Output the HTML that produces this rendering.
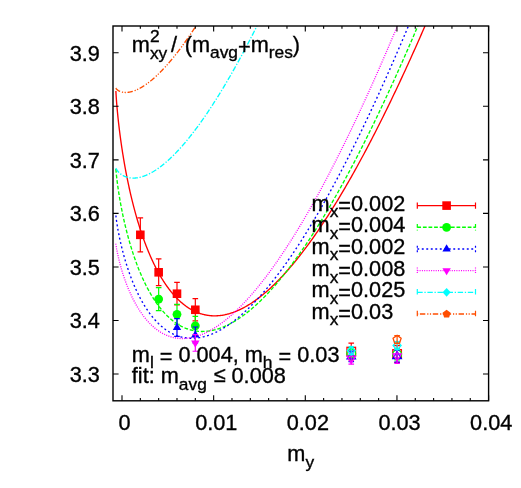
<!DOCTYPE html><html><head><meta charset="utf-8"><style>html,body{margin:0;padding:0;background:#fff}svg{display:block}text{font-family:"Liberation Sans",sans-serif;fill:#000}</style></head><body>
<svg width="521" height="488" viewBox="0 0 521 488">
<rect width="521" height="488" fill="#fff"/>
<clipPath id="cp"><rect x="113.00" y="26.00" width="375.60" height="374.80"/></clipPath>
<g clip-path="url(#cp)" fill="none" stroke-width="1.35">
<path d="M115.91 91.04 L115.91 91.05 L115.91 91.09 L115.91 91.15 L115.91 91.23 L115.92 91.34 L115.92 91.46 L115.93 91.61 L115.93 91.78 L115.94 91.97 L115.95 92.18 L115.96 92.41 L115.97 92.65 L115.99 92.92 L116.00 93.20 L116.02 93.50 L116.03 93.82 L116.05 94.15 L116.07 94.50 L116.09 94.86 L116.12 95.24 L116.14 95.64 L116.16 96.05 L116.19 96.47 L116.22 96.91 L116.25 97.36 L116.28 97.82 L116.31 98.30 L116.35 98.79 L116.38 99.30 L116.42 99.82 L116.46 100.35 L116.50 100.89 L116.54 101.44 L116.58 102.00 L116.63 102.58 L116.67 103.17 L116.72 103.76 L116.77 104.37 L116.82 104.99 L116.87 105.62 L116.93 106.26 L116.98 106.91 L117.04 107.57 L117.10 108.24 L117.16 108.91 L117.22 109.60 L117.28 110.30 L117.35 111.00 L117.42 111.71 L117.49 112.43 L117.56 113.16 L117.63 113.90 L117.70 114.65 L117.78 115.40 L117.85 116.16 L117.93 116.93 L118.01 117.71 L118.10 118.49 L118.18 119.28 L118.27 120.08 L118.35 120.88 L118.44 121.69 L118.53 122.51 L118.63 123.33 L118.72 124.16 L118.82 125.00 L118.91 125.84 L119.01 126.69 L119.12 127.54 L119.22 128.40 L119.32 129.26 L119.43 130.13 L119.54 131.01 L119.65 131.89 L119.76 132.77 L119.88 133.66 L119.99 134.56 L120.11 135.46 L120.23 136.36 L120.35 137.27 L120.47 138.18 L120.60 139.10 L120.72 140.02 L120.85 140.94 L120.98 141.87 L121.12 142.81 L121.25 143.74 L121.39 144.68 L121.52 145.63 L121.66 146.57 L121.81 147.52 L121.95 148.48 L122.10 149.43 L122.24 150.39 L122.39 151.35 L122.54 152.32 L122.70 153.29 L122.85 154.26 L123.01 155.23 L123.17 156.21 L123.33 157.19 L123.49 158.17 L123.65 159.15 L123.82 160.13 L123.99 161.12 L124.16 162.11 L124.33 163.10 L124.51 164.09 L124.68 165.09 L124.86 166.08 L125.04 167.08 L125.22 168.08 L125.41 169.08 L125.59 170.08 L125.78 171.08 L125.97 172.09 L126.16 173.09 L126.36 174.10 L126.55 175.11 L126.75 176.11 L126.95 177.12 L127.15 178.13 L127.36 179.14 L127.56 180.15 L127.77 181.16 L127.98 182.18 L128.19 183.19 L128.40 184.20 L128.62 185.21 L128.84 186.22 L129.06 187.24 L129.28 188.25 L129.50 189.26 L129.73 190.27 L129.96 191.28 L130.19 192.30 L130.42 193.31 L130.65 194.32 L130.89 195.33 L131.13 196.34 L131.37 197.35 L131.61 198.36 L131.86 199.36 L132.10 200.37 L132.35 201.38 L132.60 202.38 L132.85 203.39 L133.11 204.39 L133.36 205.39 L133.62 206.39 L133.88 207.39 L134.15 208.39 L134.41 209.39 L134.68 210.38 L134.95 211.37 L135.22 212.37 L135.49 213.36 L135.77 214.35 L136.05 215.33 L136.33 216.32 L136.61 217.30 L136.89 218.28 L137.18 219.26 L137.47 220.24 L137.76 221.22 L138.05 222.19 L138.34 223.16 L138.64 224.13 L138.94 225.10 L139.24 226.06 L139.54 227.02 L139.85 227.98 L140.16 228.94 L140.46 229.89 L140.78 230.84 L141.09 231.79 L141.41 232.74 L141.72 233.68 L142.04 234.62 L142.37 235.56 L142.69 236.49 L143.02 237.42 L143.35 238.35 L143.68 239.28 L144.01 240.20 L144.35 241.12 L144.68 242.03 L145.02 242.94 L145.37 243.85 L145.71 244.76 L146.06 245.66 L146.40 246.56 L146.75 247.45 L147.11 248.34 L147.46 249.23 L147.82 250.11 L148.18 250.99 L148.54 251.87 L148.90 252.74 L149.27 253.61 L149.64 254.47 L150.01 255.33 L150.38 256.19 L150.76 257.04 L151.13 257.88 L151.51 258.73 L151.89 259.57 L152.28 260.40 L152.66 261.23 L153.05 262.05 L153.44 262.88 L153.83 263.69 L154.23 264.50 L154.62 265.31 L155.02 266.11 L155.42 266.91 L155.83 267.70 L156.23 268.49 L156.64 269.27 L157.05 270.05 L157.47 270.83 L157.88 271.59 L158.30 272.36 L158.72 273.12 L159.14 273.87 L159.56 274.62 L159.99 275.36 L160.42 276.10 L160.85 276.83 L161.28 277.55 L161.72 278.28 L162.15 278.99 L162.59 279.70 L163.03 280.41 L163.48 281.10 L163.93 281.80 L164.37 282.48 L164.82 283.17 L165.28 283.84 L165.73 284.51 L166.19 285.18 L166.65 285.84 L167.11 286.49 L167.58 287.13 L168.05 287.77 L168.52 288.41 L168.99 289.04 L169.46 289.66 L169.94 290.28 L170.42 290.88 L170.90 291.49 L171.38 292.08 L171.87 292.68 L172.35 293.26 L172.84 293.84 L173.34 294.41 L173.83 294.97 L174.33 295.53 L174.83 296.08 L175.33 296.63 L175.83 297.17 L176.34 297.70 L176.85 298.22 L177.36 298.74 L177.87 299.25 L178.39 299.75 L178.91 300.25 L179.43 300.74 L179.95 301.22 L180.47 301.70 L181.00 302.17 L181.53 302.63 L182.06 303.08 L182.60 303.53 L183.13 303.97 L183.67 304.40 L184.21 304.83 L184.76 305.24 L185.30 305.65 L185.85 306.06 L186.40 306.45 L186.95 306.84 L187.51 307.22 L188.07 307.59 L188.63 307.96 L189.19 308.31 L189.76 308.66 L190.32 309.00 L190.89 309.34 L191.46 309.66 L192.04 309.98 L192.62 310.29 L193.20 310.59 L193.78 310.89 L194.36 311.17 L194.95 311.45 L195.54 311.72 L196.13 311.98 L196.72 312.24 L197.32 312.48 L197.91 312.72 L198.51 312.95 L199.12 313.17 L199.72 313.38 L200.33 313.58 L200.94 313.77 L201.55 313.96 L202.17 314.14 L202.79 314.31 L203.41 314.47 L204.03 314.62 L204.65 314.76 L205.28 314.90 L205.91 315.02 L206.54 315.14 L207.17 315.25 L207.81 315.35 L208.45 315.44 L209.09 315.52 L209.74 315.59 L210.38 315.65 L211.03 315.71 L211.68 315.75 L212.34 315.79 L212.99 315.81 L213.65 315.83 L214.31 315.84 L214.97 315.84 L215.64 315.83 L216.31 315.81 L216.98 315.78 L217.65 315.74 L218.33 315.69 L219.00 315.64 L219.69 315.57 L220.37 315.49 L221.05 315.41 L221.74 315.31 L222.43 315.21 L223.12 315.09 L223.82 314.97 L224.52 314.83 L225.22 314.69 L225.92 314.53 L226.62 314.37 L227.33 314.20 L228.04 314.01 L228.75 313.82 L229.47 313.62 L230.18 313.40 L230.90 313.18 L231.63 312.94 L232.35 312.70 L233.08 312.45 L233.81 312.18 L234.54 311.91 L235.27 311.62 L236.01 311.33 L236.75 311.02 L237.49 310.70 L238.23 310.38 L238.98 310.04 L239.73 309.69 L240.48 309.34 L241.24 308.97 L241.99 308.59 L242.75 308.20 L243.51 307.80 L244.28 307.39 L245.04 306.97 L245.81 306.53 L246.59 306.09 L247.36 305.64 L248.14 305.17 L248.91 304.70 L249.70 304.21 L250.48 303.71 L251.27 303.21 L252.06 302.69 L252.85 302.16 L253.64 301.61 L254.44 301.06 L255.24 300.50 L256.04 299.92 L256.84 299.34 L257.65 298.74 L258.46 298.13 L259.27 297.51 L260.08 296.88 L260.90 296.24 L261.72 295.58 L262.54 294.92 L263.37 294.24 L264.19 293.55 L265.02 292.85 L265.85 292.14 L266.69 291.42 L267.53 290.69 L268.36 289.94 L269.21 289.18 L270.05 288.41 L270.90 287.63 L271.75 286.84 L272.60 286.03 L273.45 285.22 L274.31 284.39 L275.17 283.55 L276.03 282.70 L276.90 281.83 L277.76 280.96 L278.63 280.07 L279.51 279.17 L280.38 278.26 L281.26 277.33 L282.14 276.39 L283.02 275.45 L283.91 274.49 L284.79 273.51 L285.68 272.53 L286.58 271.53 L287.47 270.52 L288.37 269.50 L289.27 268.46 L290.17 267.42 L291.08 266.36 L291.99 265.28 L292.90 264.20 L293.81 263.10 L294.73 261.99 L295.65 260.87 L296.57 259.74 L297.49 258.59 L298.42 257.43 L299.34 256.26 L300.28 255.07 L301.21 253.87 L302.15 252.66 L303.08 251.44 L304.03 250.20 L304.97 248.95 L305.92 247.69 L306.87 246.42 L307.82 245.13 L308.77 243.83 L309.73 242.51 L310.69 241.18 L311.65 239.84 L312.62 238.49 L313.58 237.12 L314.55 235.74 L315.52 234.35 L316.50 232.94 L317.48 231.52 L318.46 230.09 L319.44 228.65 L320.43 227.19 L321.41 225.71 L322.40 224.23 L323.40 222.73 L324.39 221.21 L325.39 219.69 L326.39 218.15 L327.40 216.59 L328.40 215.03 L329.41 213.44 L330.42 211.85 L331.44 210.24 L332.45 208.62 L333.47 206.98 L334.49 205.33 L335.52 203.67 L336.55 201.99 L337.58 200.30 L338.61 198.60 L339.64 196.88 L340.68 195.15 L341.72 193.40 L342.76 191.64 L343.81 189.87 L344.86 188.08 L345.91 186.28 L346.96 184.46 L348.02 182.63 L349.08 180.78 L350.14 178.92 L351.20 177.05 L352.27 175.16 L353.34 173.26 L354.41 171.35 L355.48 169.42 L356.56 167.47 L357.64 165.51 L358.72 163.54 L359.81 161.55 L360.89 159.55 L361.98 157.53 L363.08 155.50 L364.17 153.46 L365.27 151.40 L366.37 149.32 L367.47 147.23 L368.58 145.13 L369.69 143.01 L370.80 140.88 L371.91 138.73 L373.03 136.56 L374.15 134.39 L375.27 132.19 L376.40 129.99 L377.52 127.77 L378.65 125.53 L379.79 123.28 L380.92 121.01 L382.06 118.73 L383.20 116.43 L384.34 114.12 L385.49 111.79 L386.64 109.45 L387.79 107.09 L388.94 104.72 L390.10 102.34 L391.26 99.93 L392.42 97.52 L393.58 95.08 L394.75 92.63 L395.92 90.17 L397.09 87.69 L398.27 85.20 L399.45 82.69 L400.63 80.16 L401.81 77.62 L403.00 75.07 L404.18 72.50 L405.38 69.91 L406.57 67.31 L407.77 64.69 L408.97 62.06 L410.17 59.41 L411.37 56.75 L412.58 54.07 L413.79 51.37 L415.00 48.66 L416.22 45.93 L417.44 43.19 L418.66 40.43 L419.88 37.66 L421.11 34.87 L422.34 32.06 L423.57 29.24 L424.80 26.40 L424.98 26.00" stroke="#ff0000"/>
<path d="M115.91 169.06 L115.91 169.06 L115.91 169.09 L115.91 169.12 L115.91 169.18 L115.92 169.24 L115.92 169.33 L115.93 169.42 L115.93 169.53 L115.94 169.65 L115.95 169.79 L115.96 169.94 L115.97 170.10 L115.99 170.28 L116.00 170.46 L116.02 170.66 L116.03 170.87 L116.05 171.10 L116.07 171.33 L116.09 171.58 L116.12 171.83 L116.14 172.10 L116.16 172.38 L116.19 172.67 L116.22 172.97 L116.25 173.28 L116.28 173.60 L116.31 173.93 L116.35 174.27 L116.38 174.61 L116.42 174.97 L116.46 175.34 L116.50 175.72 L116.54 176.10 L116.58 176.50 L116.63 176.90 L116.67 177.31 L116.72 177.74 L116.77 178.16 L116.82 178.60 L116.87 179.05 L116.93 179.50 L116.98 179.96 L117.04 180.43 L117.10 180.91 L117.16 181.39 L117.22 181.88 L117.28 182.38 L117.35 182.89 L117.42 183.40 L117.49 183.92 L117.56 184.45 L117.63 184.98 L117.70 185.52 L117.78 186.07 L117.85 186.62 L117.93 187.18 L118.01 187.74 L118.10 188.32 L118.18 188.89 L118.27 189.48 L118.35 190.06 L118.44 190.66 L118.53 191.26 L118.63 191.86 L118.72 192.48 L118.82 193.09 L118.91 193.71 L119.01 194.34 L119.12 194.97 L119.22 195.61 L119.32 196.25 L119.43 196.89 L119.54 197.54 L119.65 198.20 L119.76 198.86 L119.88 199.52 L119.99 200.19 L120.11 200.86 L120.23 201.54 L120.35 202.22 L120.47 202.90 L120.60 203.59 L120.72 204.28 L120.85 204.98 L120.98 205.67 L121.12 206.38 L121.25 207.08 L121.39 207.79 L121.52 208.50 L121.66 209.22 L121.81 209.94 L121.95 210.66 L122.10 211.38 L122.24 212.11 L122.39 212.84 L122.54 213.57 L122.70 214.31 L122.85 215.05 L123.01 215.79 L123.17 216.53 L123.33 217.28 L123.49 218.02 L123.65 218.77 L123.82 219.52 L123.99 220.28 L124.16 221.03 L124.33 221.79 L124.51 222.55 L124.68 223.31 L124.86 224.07 L125.04 224.84 L125.22 225.60 L125.41 226.37 L125.59 227.14 L125.78 227.91 L125.97 228.68 L126.16 229.45 L126.36 230.23 L126.55 231.00 L126.75 231.78 L126.95 232.55 L127.15 233.33 L127.36 234.11 L127.56 234.89 L127.77 235.67 L127.98 236.44 L128.19 237.23 L128.40 238.01 L128.62 238.79 L128.84 239.57 L129.06 240.35 L129.28 241.13 L129.50 241.91 L129.73 242.70 L129.96 243.48 L130.19 244.26 L130.42 245.04 L130.65 245.82 L130.89 246.61 L131.13 247.39 L131.37 248.17 L131.61 248.95 L131.86 249.73 L132.10 250.51 L132.35 251.29 L132.60 252.06 L132.85 252.84 L133.11 253.62 L133.36 254.39 L133.62 255.17 L133.88 255.94 L134.15 256.71 L134.41 257.48 L134.68 258.26 L134.95 259.02 L135.22 259.79 L135.49 260.56 L135.77 261.32 L136.05 262.09 L136.33 262.85 L136.61 263.61 L136.89 264.37 L137.18 265.13 L137.47 265.88 L137.76 266.64 L138.05 267.39 L138.34 268.14 L138.64 268.89 L138.94 269.63 L139.24 270.38 L139.54 271.12 L139.85 271.86 L140.16 272.60 L140.46 273.33 L140.78 274.07 L141.09 274.80 L141.41 275.53 L141.72 276.25 L142.04 276.98 L142.37 277.70 L142.69 278.41 L143.02 279.13 L143.35 279.84 L143.68 280.55 L144.01 281.26 L144.35 281.96 L144.68 282.66 L145.02 283.36 L145.37 284.06 L145.71 284.75 L146.06 285.44 L146.40 286.12 L146.75 286.81 L147.11 287.49 L147.46 288.16 L147.82 288.83 L148.18 289.50 L148.54 290.17 L148.90 290.83 L149.27 291.49 L149.64 292.14 L150.01 292.79 L150.38 293.44 L150.76 294.08 L151.13 294.72 L151.51 295.36 L151.89 295.99 L152.28 296.62 L152.66 297.24 L153.05 297.86 L153.44 298.48 L153.83 299.09 L154.23 299.69 L154.62 300.30 L155.02 300.90 L155.42 301.49 L155.83 302.08 L156.23 302.66 L156.64 303.24 L157.05 303.82 L157.47 304.39 L157.88 304.96 L158.30 305.52 L158.72 306.08 L159.14 306.63 L159.56 307.18 L159.99 307.72 L160.42 308.26 L160.85 308.79 L161.28 309.32 L161.72 309.84 L162.15 310.36 L162.59 310.87 L163.03 311.38 L163.48 311.88 L163.93 312.38 L164.37 312.87 L164.82 313.35 L165.28 313.83 L165.73 314.31 L166.19 314.78 L166.65 315.24 L167.11 315.70 L167.58 316.15 L168.05 316.60 L168.52 317.04 L168.99 317.48 L169.46 317.91 L169.94 318.33 L170.42 318.75 L170.90 319.16 L171.38 319.57 L171.87 319.97 L172.35 320.36 L172.84 320.75 L173.34 321.13 L173.83 321.51 L174.33 321.88 L174.83 322.24 L175.33 322.59 L175.83 322.94 L176.34 323.29 L176.85 323.63 L177.36 323.96 L177.87 324.28 L178.39 324.60 L178.91 324.91 L179.43 325.21 L179.95 325.51 L180.47 325.80 L181.00 326.09 L181.53 326.36 L182.06 326.63 L182.60 326.90 L183.13 327.15 L183.67 327.40 L184.21 327.65 L184.76 327.88 L185.30 328.11 L185.85 328.33 L186.40 328.55 L186.95 328.75 L187.51 328.95 L188.07 329.14 L188.63 329.33 L189.19 329.51 L189.76 329.68 L190.32 329.84 L190.89 329.99 L191.46 330.14 L192.04 330.28 L192.62 330.41 L193.20 330.54 L193.78 330.66 L194.36 330.77 L194.95 330.87 L195.54 330.96 L196.13 331.05 L196.72 331.12 L197.32 331.19 L197.91 331.26 L198.51 331.31 L199.12 331.36 L199.72 331.39 L200.33 331.42 L200.94 331.45 L201.55 331.46 L202.17 331.46 L202.79 331.46 L203.41 331.45 L204.03 331.43 L204.65 331.40 L205.28 331.36 L205.91 331.32 L206.54 331.27 L207.17 331.20 L207.81 331.13 L208.45 331.05 L209.09 330.97 L209.74 330.87 L210.38 330.76 L211.03 330.65 L211.68 330.53 L212.34 330.40 L212.99 330.25 L213.65 330.11 L214.31 329.95 L214.97 329.78 L215.64 329.60 L216.31 329.42 L216.98 329.22 L217.65 329.02 L218.33 328.81 L219.00 328.58 L219.69 328.35 L220.37 328.11 L221.05 327.86 L221.74 327.60 L222.43 327.33 L223.12 327.06 L223.82 326.77 L224.52 326.47 L225.22 326.17 L225.92 325.85 L226.62 325.52 L227.33 325.19 L228.04 324.85 L228.75 324.49 L229.47 324.13 L230.18 323.75 L230.90 323.37 L231.63 322.98 L232.35 322.57 L233.08 322.16 L233.81 321.74 L234.54 321.30 L235.27 320.86 L236.01 320.41 L236.75 319.94 L237.49 319.47 L238.23 318.99 L238.98 318.49 L239.73 317.99 L240.48 317.47 L241.24 316.95 L241.99 316.41 L242.75 315.87 L243.51 315.31 L244.28 314.75 L245.04 314.17 L245.81 313.58 L246.59 312.99 L247.36 312.38 L248.14 311.76 L248.91 311.13 L249.70 310.49 L250.48 309.84 L251.27 309.18 L252.06 308.51 L252.85 307.83 L253.64 307.13 L254.44 306.43 L255.24 305.71 L256.04 304.99 L256.84 304.25 L257.65 303.50 L258.46 302.74 L259.27 301.97 L260.08 301.19 L260.90 300.40 L261.72 299.60 L262.54 298.78 L263.37 297.96 L264.19 297.12 L265.02 296.27 L265.85 295.41 L266.69 294.54 L267.53 293.66 L268.36 292.77 L269.21 291.86 L270.05 290.95 L270.90 290.02 L271.75 289.08 L272.60 288.13 L273.45 287.17 L274.31 286.19 L275.17 285.21 L276.03 284.21 L276.90 283.20 L277.76 282.18 L278.63 281.15 L279.51 280.10 L280.38 279.04 L281.26 277.98 L282.14 276.90 L283.02 275.80 L283.91 274.70 L284.79 273.58 L285.68 272.46 L286.58 271.32 L287.47 270.16 L288.37 269.00 L289.27 267.82 L290.17 266.64 L291.08 265.44 L291.99 264.22 L292.90 263.00 L293.81 261.76 L294.73 260.51 L295.65 259.25 L296.57 257.97 L297.49 256.69 L298.42 255.39 L299.34 254.07 L300.28 252.75 L301.21 251.41 L302.15 250.06 L303.08 248.70 L304.03 247.33 L304.97 245.94 L305.92 244.54 L306.87 243.13 L307.82 241.70 L308.77 240.26 L309.73 238.81 L310.69 237.35 L311.65 235.87 L312.62 234.38 L313.58 232.88 L314.55 231.36 L315.52 229.83 L316.50 228.29 L317.48 226.74 L318.46 225.17 L319.44 223.59 L320.43 221.99 L321.41 220.39 L322.40 218.77 L323.40 217.13 L324.39 215.48 L325.39 213.82 L326.39 212.15 L327.40 210.46 L328.40 208.76 L329.41 207.05 L330.42 205.32 L331.44 203.58 L332.45 201.83 L333.47 200.06 L334.49 198.28 L335.52 196.48 L336.55 194.68 L337.58 192.85 L338.61 191.02 L339.64 189.17 L340.68 187.31 L341.72 185.43 L342.76 183.54 L343.81 181.63 L344.86 179.72 L345.91 177.78 L346.96 175.84 L348.02 173.88 L349.08 171.91 L350.14 169.92 L351.20 167.92 L352.27 165.90 L353.34 163.87 L354.41 161.83 L355.48 159.77 L356.56 157.70 L357.64 155.61 L358.72 153.51 L359.81 151.39 L360.89 149.27 L361.98 147.12 L363.08 144.96 L364.17 142.79 L365.27 140.61 L366.37 138.41 L367.47 136.19 L368.58 133.96 L369.69 131.72 L370.80 129.46 L371.91 127.19 L373.03 124.90 L374.15 122.60 L375.27 120.28 L376.40 117.95 L377.52 115.60 L378.65 113.24 L379.79 110.86 L380.92 108.47 L382.06 106.07 L383.20 103.65 L384.34 101.21 L385.49 98.76 L386.64 96.30 L387.79 93.82 L388.94 91.33 L390.10 88.82 L391.26 86.29 L392.42 83.75 L393.58 81.20 L394.75 78.63 L395.92 76.05 L397.09 73.45 L398.27 70.83 L399.45 68.20 L400.63 65.56 L401.81 62.90 L403.00 60.22 L404.18 57.53 L405.38 54.82 L406.57 52.10 L407.77 49.36 L408.97 46.61 L410.17 43.84 L411.37 41.06 L412.58 38.26 L413.79 35.45 L415.00 32.62 L416.22 29.77 L417.44 26.91 L417.82 26.00" stroke="#00ff00" stroke-dasharray="3.75 1.85"/>
<path d="M115.91 215.47 L115.91 215.47 L115.91 215.49 L115.91 215.52 L115.91 215.56 L115.92 215.61 L115.92 215.67 L115.93 215.74 L115.93 215.82 L115.94 215.91 L115.95 216.02 L115.96 216.13 L115.97 216.25 L115.99 216.38 L116.00 216.52 L116.02 216.68 L116.03 216.84 L116.05 217.01 L116.07 217.18 L116.09 217.37 L116.12 217.57 L116.14 217.77 L116.16 217.99 L116.19 218.21 L116.22 218.44 L116.25 218.68 L116.28 218.92 L116.31 219.18 L116.35 219.44 L116.38 219.71 L116.42 219.99 L116.46 220.27 L116.50 220.56 L116.54 220.86 L116.58 221.17 L116.63 221.48 L116.67 221.81 L116.72 222.13 L116.77 222.47 L116.82 222.81 L116.87 223.16 L116.93 223.51 L116.98 223.87 L117.04 224.24 L117.10 224.62 L117.16 225.00 L117.22 225.38 L117.28 225.77 L117.35 226.17 L117.42 226.58 L117.49 226.98 L117.56 227.40 L117.63 227.82 L117.70 228.25 L117.78 228.68 L117.85 229.12 L117.93 229.56 L118.01 230.01 L118.10 230.46 L118.18 230.92 L118.27 231.38 L118.35 231.85 L118.44 232.32 L118.53 232.79 L118.63 233.27 L118.72 233.76 L118.82 234.25 L118.91 234.75 L119.01 235.24 L119.12 235.75 L119.22 236.25 L119.32 236.77 L119.43 237.28 L119.54 237.80 L119.65 238.32 L119.76 238.85 L119.88 239.38 L119.99 239.91 L120.11 240.45 L120.23 240.99 L120.35 241.54 L120.47 242.09 L120.60 242.64 L120.72 243.19 L120.85 243.75 L120.98 244.31 L121.12 244.87 L121.25 245.44 L121.39 246.01 L121.52 246.58 L121.66 247.15 L121.81 247.73 L121.95 248.31 L122.10 248.89 L122.24 249.48 L122.39 250.07 L122.54 250.65 L122.70 251.25 L122.85 251.84 L123.01 252.44 L123.17 253.03 L123.33 253.63 L123.49 254.24 L123.65 254.84 L123.82 255.45 L123.99 256.05 L124.16 256.66 L124.33 257.27 L124.51 257.88 L124.68 258.50 L124.86 259.11 L125.04 259.73 L125.22 260.34 L125.41 260.96 L125.59 261.58 L125.78 262.20 L125.97 262.83 L126.16 263.45 L126.36 264.07 L126.55 264.70 L126.75 265.32 L126.95 265.95 L127.15 266.57 L127.36 267.20 L127.56 267.83 L127.77 268.46 L127.98 269.08 L128.19 269.71 L128.40 270.34 L128.62 270.97 L128.84 271.60 L129.06 272.23 L129.28 272.86 L129.50 273.49 L129.73 274.12 L129.96 274.75 L130.19 275.38 L130.42 276.01 L130.65 276.64 L130.89 277.27 L131.13 277.90 L131.37 278.52 L131.61 279.15 L131.86 279.78 L132.10 280.40 L132.35 281.03 L132.60 281.65 L132.85 282.28 L133.11 282.90 L133.36 283.52 L133.62 284.14 L133.88 284.76 L134.15 285.38 L134.41 286.00 L134.68 286.62 L134.95 287.23 L135.22 287.85 L135.49 288.46 L135.77 289.07 L136.05 289.68 L136.33 290.29 L136.61 290.89 L136.89 291.50 L137.18 292.10 L137.47 292.71 L137.76 293.31 L138.05 293.90 L138.34 294.50 L138.64 295.10 L138.94 295.69 L139.24 296.28 L139.54 296.87 L139.85 297.45 L140.16 298.04 L140.46 298.62 L140.78 299.20 L141.09 299.78 L141.41 300.35 L141.72 300.92 L142.04 301.49 L142.37 302.06 L142.69 302.63 L143.02 303.19 L143.35 303.75 L143.68 304.30 L144.01 304.86 L144.35 305.41 L144.68 305.96 L145.02 306.50 L145.37 307.05 L145.71 307.58 L146.06 308.12 L146.40 308.65 L146.75 309.18 L147.11 309.71 L147.46 310.23 L147.82 310.75 L148.18 311.27 L148.54 311.78 L148.90 312.29 L149.27 312.80 L149.64 313.30 L150.01 313.80 L150.38 314.30 L150.76 314.79 L151.13 315.28 L151.51 315.76 L151.89 316.24 L152.28 316.72 L152.66 317.19 L153.05 317.66 L153.44 318.12 L153.83 318.58 L154.23 319.04 L154.62 319.49 L155.02 319.94 L155.42 320.38 L155.83 320.82 L156.23 321.26 L156.64 321.69 L157.05 322.11 L157.47 322.54 L157.88 322.95 L158.30 323.37 L158.72 323.77 L159.14 324.18 L159.56 324.58 L159.99 324.97 L160.42 325.36 L160.85 325.74 L161.28 326.12 L161.72 326.49 L162.15 326.86 L162.59 327.23 L163.03 327.59 L163.48 327.94 L163.93 328.29 L164.37 328.63 L164.82 328.97 L165.28 329.30 L165.73 329.63 L166.19 329.95 L166.65 330.27 L167.11 330.58 L167.58 330.89 L168.05 331.19 L168.52 331.48 L168.99 331.77 L169.46 332.06 L169.94 332.33 L170.42 332.61 L170.90 332.87 L171.38 333.13 L171.87 333.39 L172.35 333.63 L172.84 333.88 L173.34 334.11 L173.83 334.34 L174.33 334.57 L174.83 334.79 L175.33 335.00 L175.83 335.20 L176.34 335.40 L176.85 335.60 L177.36 335.78 L177.87 335.96 L178.39 336.14 L178.91 336.30 L179.43 336.47 L179.95 336.62 L180.47 336.77 L181.00 336.91 L181.53 337.04 L182.06 337.17 L182.60 337.29 L183.13 337.41 L183.67 337.51 L184.21 337.61 L184.76 337.71 L185.30 337.79 L185.85 337.87 L186.40 337.95 L186.95 338.01 L187.51 338.07 L188.07 338.12 L188.63 338.17 L189.19 338.20 L189.76 338.23 L190.32 338.25 L190.89 338.27 L191.46 338.28 L192.04 338.28 L192.62 338.27 L193.20 338.25 L193.78 338.23 L194.36 338.20 L194.95 338.16 L195.54 338.12 L196.13 338.07 L196.72 338.00 L197.32 337.94 L197.91 337.86 L198.51 337.78 L199.12 337.68 L199.72 337.58 L200.33 337.47 L200.94 337.36 L201.55 337.23 L202.17 337.10 L202.79 336.96 L203.41 336.81 L204.03 336.66 L204.65 336.49 L205.28 336.32 L205.91 336.14 L206.54 335.95 L207.17 335.75 L207.81 335.54 L208.45 335.33 L209.09 335.10 L209.74 334.87 L210.38 334.63 L211.03 334.38 L211.68 334.12 L212.34 333.86 L212.99 333.58 L213.65 333.30 L214.31 333.01 L214.97 332.70 L215.64 332.39 L216.31 332.07 L216.98 331.75 L217.65 331.41 L218.33 331.06 L219.00 330.71 L219.69 330.34 L220.37 329.97 L221.05 329.59 L221.74 329.19 L222.43 328.79 L223.12 328.38 L223.82 327.96 L224.52 327.53 L225.22 327.10 L225.92 326.65 L226.62 326.19 L227.33 325.73 L228.04 325.25 L228.75 324.76 L229.47 324.27 L230.18 323.76 L230.90 323.25 L231.63 322.73 L232.35 322.19 L233.08 321.65 L233.81 321.10 L234.54 320.53 L235.27 319.96 L236.01 319.38 L236.75 318.78 L237.49 318.18 L238.23 317.57 L238.98 316.95 L239.73 316.31 L240.48 315.67 L241.24 315.02 L241.99 314.35 L242.75 313.68 L243.51 313.00 L244.28 312.30 L245.04 311.60 L245.81 310.89 L246.59 310.16 L247.36 309.43 L248.14 308.68 L248.91 307.92 L249.70 307.16 L250.48 306.38 L251.27 305.59 L252.06 304.80 L252.85 303.99 L253.64 303.17 L254.44 302.34 L255.24 301.50 L256.04 300.64 L256.84 299.78 L257.65 298.91 L258.46 298.03 L259.27 297.13 L260.08 296.22 L260.90 295.31 L261.72 294.38 L262.54 293.44 L263.37 292.49 L264.19 291.53 L265.02 290.56 L265.85 289.58 L266.69 288.58 L267.53 287.58 L268.36 286.56 L269.21 285.53 L270.05 284.49 L270.90 283.44 L271.75 282.38 L272.60 281.30 L273.45 280.22 L274.31 279.12 L275.17 278.02 L276.03 276.90 L276.90 275.77 L277.76 274.62 L278.63 273.47 L279.51 272.30 L280.38 271.12 L281.26 269.94 L282.14 268.73 L283.02 267.52 L283.91 266.30 L284.79 265.06 L285.68 263.81 L286.58 262.55 L287.47 261.28 L288.37 260.00 L289.27 258.70 L290.17 257.39 L291.08 256.07 L291.99 254.74 L292.90 253.39 L293.81 252.04 L294.73 250.67 L295.65 249.29 L296.57 247.89 L297.49 246.49 L298.42 245.07 L299.34 243.64 L300.28 242.20 L301.21 240.74 L302.15 239.28 L303.08 237.80 L304.03 236.30 L304.97 234.80 L305.92 233.28 L306.87 231.75 L307.82 230.21 L308.77 228.65 L309.73 227.09 L310.69 225.50 L311.65 223.91 L312.62 222.31 L313.58 220.69 L314.55 219.05 L315.52 217.41 L316.50 215.75 L317.48 214.08 L318.46 212.40 L319.44 210.70 L320.43 208.99 L321.41 207.27 L322.40 205.54 L323.40 203.79 L324.39 202.03 L325.39 200.25 L326.39 198.46 L327.40 196.66 L328.40 194.85 L329.41 193.02 L330.42 191.18 L331.44 189.32 L332.45 187.46 L333.47 185.58 L334.49 183.68 L335.52 181.77 L336.55 179.85 L337.58 177.92 L338.61 175.97 L339.64 174.01 L340.68 172.03 L341.72 170.04 L342.76 168.04 L343.81 166.02 L344.86 163.99 L345.91 161.95 L346.96 159.89 L348.02 157.82 L349.08 155.73 L350.14 153.64 L351.20 151.52 L352.27 149.40 L353.34 147.25 L354.41 145.10 L355.48 142.93 L356.56 140.75 L357.64 138.55 L358.72 136.34 L359.81 134.12 L360.89 131.88 L361.98 129.62 L363.08 127.36 L364.17 125.08 L365.27 122.78 L366.37 120.47 L367.47 118.14 L368.58 115.81 L369.69 113.45 L370.80 111.09 L371.91 108.70 L373.03 106.31 L374.15 103.90 L375.27 101.47 L376.40 99.03 L377.52 96.58 L378.65 94.11 L379.79 91.63 L380.92 89.13 L382.06 86.61 L383.20 84.09 L384.34 81.55 L385.49 78.99 L386.64 76.42 L387.79 73.83 L388.94 71.23 L390.10 68.61 L391.26 65.98 L392.42 63.34 L393.58 60.68 L394.75 58.00 L395.92 55.31 L397.09 52.60 L398.27 49.88 L399.45 47.15 L400.63 44.40 L401.81 41.63 L403.00 38.85 L404.18 36.05 L405.38 33.24 L406.57 30.41 L407.77 27.57 L408.43 26.00" stroke="#0000ff" stroke-dasharray="1.9 2.6"/>
<path d="M115.91 243.78 L115.91 243.78 L115.91 243.80 L115.91 243.82 L115.91 243.85 L115.92 243.89 L115.92 243.94 L115.93 244.00 L115.93 244.06 L115.94 244.14 L115.95 244.22 L115.96 244.31 L115.97 244.41 L115.99 244.51 L116.00 244.63 L116.02 244.75 L116.03 244.88 L116.05 245.02 L116.07 245.16 L116.09 245.31 L116.12 245.47 L116.14 245.64 L116.16 245.81 L116.19 245.99 L116.22 246.18 L116.25 246.37 L116.28 246.57 L116.31 246.78 L116.35 246.99 L116.38 247.21 L116.42 247.43 L116.46 247.67 L116.50 247.90 L116.54 248.15 L116.58 248.40 L116.63 248.66 L116.67 248.92 L116.72 249.19 L116.77 249.46 L116.82 249.74 L116.87 250.02 L116.93 250.31 L116.98 250.61 L117.04 250.91 L117.10 251.22 L117.16 251.53 L117.22 251.85 L117.28 252.17 L117.35 252.49 L117.42 252.82 L117.49 253.16 L117.56 253.50 L117.63 253.85 L117.70 254.20 L117.78 254.55 L117.85 254.91 L117.93 255.28 L118.01 255.64 L118.10 256.02 L118.18 256.39 L118.27 256.77 L118.35 257.16 L118.44 257.55 L118.53 257.94 L118.63 258.34 L118.72 258.74 L118.82 259.14 L118.91 259.55 L119.01 259.96 L119.12 260.38 L119.22 260.79 L119.32 261.22 L119.43 261.64 L119.54 262.07 L119.65 262.50 L119.76 262.94 L119.88 263.37 L119.99 263.82 L120.11 264.26 L120.23 264.71 L120.35 265.16 L120.47 265.61 L120.60 266.06 L120.72 266.52 L120.85 266.98 L120.98 267.44 L121.12 267.91 L121.25 268.38 L121.39 268.85 L121.52 269.32 L121.66 269.80 L121.81 270.27 L121.95 270.75 L122.10 271.23 L122.24 271.72 L122.39 272.20 L122.54 272.69 L122.70 273.18 L122.85 273.67 L123.01 274.16 L123.17 274.65 L123.33 275.15 L123.49 275.65 L123.65 276.14 L123.82 276.64 L123.99 277.15 L124.16 277.65 L124.33 278.15 L124.51 278.66 L124.68 279.16 L124.86 279.67 L125.04 280.18 L125.22 280.69 L125.41 281.20 L125.59 281.71 L125.78 282.22 L125.97 282.73 L126.16 283.24 L126.36 283.76 L126.55 284.27 L126.75 284.79 L126.95 285.30 L127.15 285.82 L127.36 286.33 L127.56 286.85 L127.77 287.36 L127.98 287.88 L128.19 288.40 L128.40 288.91 L128.62 289.43 L128.84 289.95 L129.06 290.46 L129.28 290.98 L129.50 291.50 L129.73 292.01 L129.96 292.53 L130.19 293.04 L130.42 293.56 L130.65 294.07 L130.89 294.58 L131.13 295.10 L131.37 295.61 L131.61 296.12 L131.86 296.63 L132.10 297.14 L132.35 297.65 L132.60 298.16 L132.85 298.67 L133.11 299.17 L133.36 299.68 L133.62 300.18 L133.88 300.69 L134.15 301.19 L134.41 301.69 L134.68 302.19 L134.95 302.69 L135.22 303.18 L135.49 303.68 L135.77 304.17 L136.05 304.66 L136.33 305.15 L136.61 305.64 L136.89 306.13 L137.18 306.62 L137.47 307.10 L137.76 307.58 L138.05 308.06 L138.34 308.54 L138.64 309.01 L138.94 309.49 L139.24 309.96 L139.54 310.43 L139.85 310.90 L140.16 311.36 L140.46 311.82 L140.78 312.28 L141.09 312.74 L141.41 313.20 L141.72 313.65 L142.04 314.10 L142.37 314.55 L142.69 314.99 L143.02 315.44 L143.35 315.88 L143.68 316.31 L144.01 316.75 L144.35 317.18 L144.68 317.61 L145.02 318.03 L145.37 318.45 L145.71 318.87 L146.06 319.29 L146.40 319.70 L146.75 320.11 L147.11 320.52 L147.46 320.92 L147.82 321.32 L148.18 321.72 L148.54 322.11 L148.90 322.50 L149.27 322.89 L149.64 323.27 L150.01 323.65 L150.38 324.02 L150.76 324.39 L151.13 324.76 L151.51 325.12 L151.89 325.48 L152.28 325.84 L152.66 326.19 L153.05 326.54 L153.44 326.88 L153.83 327.22 L154.23 327.56 L154.62 327.89 L155.02 328.22 L155.42 328.54 L155.83 328.86 L156.23 329.17 L156.64 329.48 L157.05 329.79 L157.47 330.09 L157.88 330.39 L158.30 330.68 L158.72 330.97 L159.14 331.25 L159.56 331.53 L159.99 331.80 L160.42 332.07 L160.85 332.33 L161.28 332.59 L161.72 332.84 L162.15 333.09 L162.59 333.34 L163.03 333.58 L163.48 333.81 L163.93 334.04 L164.37 334.26 L164.82 334.48 L165.28 334.69 L165.73 334.90 L166.19 335.10 L166.65 335.30 L167.11 335.49 L167.58 335.68 L168.05 335.86 L168.52 336.03 L168.99 336.20 L169.46 336.37 L169.94 336.52 L170.42 336.68 L170.90 336.82 L171.38 336.96 L171.87 337.10 L172.35 337.23 L172.84 337.35 L173.34 337.47 L173.83 337.58 L174.33 337.68 L174.83 337.78 L175.33 337.88 L175.83 337.96 L176.34 338.04 L176.85 338.12 L177.36 338.18 L177.87 338.25 L178.39 338.30 L178.91 338.35 L179.43 338.39 L179.95 338.43 L180.47 338.46 L181.00 338.48 L181.53 338.50 L182.06 338.50 L182.60 338.51 L183.13 338.50 L183.67 338.49 L184.21 338.48 L184.76 338.45 L185.30 338.42 L185.85 338.38 L186.40 338.34 L186.95 338.28 L187.51 338.22 L188.07 338.16 L188.63 338.08 L189.19 338.00 L189.76 337.92 L190.32 337.82 L190.89 337.72 L191.46 337.61 L192.04 337.49 L192.62 337.37 L193.20 337.23 L193.78 337.09 L194.36 336.95 L194.95 336.79 L195.54 336.63 L196.13 336.46 L196.72 336.28 L197.32 336.10 L197.91 335.91 L198.51 335.71 L199.12 335.50 L199.72 335.28 L200.33 335.06 L200.94 334.82 L201.55 334.58 L202.17 334.34 L202.79 334.08 L203.41 333.82 L204.03 333.54 L204.65 333.26 L205.28 332.97 L205.91 332.68 L206.54 332.37 L207.17 332.06 L207.81 331.74 L208.45 331.41 L209.09 331.07 L209.74 330.72 L210.38 330.37 L211.03 330.00 L211.68 329.63 L212.34 329.25 L212.99 328.86 L213.65 328.46 L214.31 328.05 L214.97 327.64 L215.64 327.21 L216.31 326.78 L216.98 326.34 L217.65 325.89 L218.33 325.43 L219.00 324.96 L219.69 324.48 L220.37 323.99 L221.05 323.50 L221.74 322.99 L222.43 322.48 L223.12 321.95 L223.82 321.42 L224.52 320.88 L225.22 320.33 L225.92 319.77 L226.62 319.20 L227.33 318.62 L228.04 318.03 L228.75 317.43 L229.47 316.82 L230.18 316.21 L230.90 315.58 L231.63 314.95 L232.35 314.30 L233.08 313.64 L233.81 312.98 L234.54 312.30 L235.27 311.62 L236.01 310.93 L236.75 310.22 L237.49 309.51 L238.23 308.78 L238.98 308.05 L239.73 307.31 L240.48 306.55 L241.24 305.79 L241.99 305.01 L242.75 304.23 L243.51 303.44 L244.28 302.63 L245.04 301.82 L245.81 300.99 L246.59 300.16 L247.36 299.31 L248.14 298.46 L248.91 297.59 L249.70 296.72 L250.48 295.83 L251.27 294.93 L252.06 294.02 L252.85 293.11 L253.64 292.18 L254.44 291.24 L255.24 290.29 L256.04 289.33 L256.84 288.36 L257.65 287.37 L258.46 286.38 L259.27 285.38 L260.08 284.36 L260.90 283.34 L261.72 282.30 L262.54 281.25 L263.37 280.20 L264.19 279.13 L265.02 278.05 L265.85 276.96 L266.69 275.85 L267.53 274.74 L268.36 273.62 L269.21 272.48 L270.05 271.33 L270.90 270.17 L271.75 269.01 L272.60 267.82 L273.45 266.63 L274.31 265.43 L275.17 264.21 L276.03 262.99 L276.90 261.75 L277.76 260.50 L278.63 259.24 L279.51 257.97 L280.38 256.68 L281.26 255.39 L282.14 254.08 L283.02 252.76 L283.91 251.43 L284.79 250.09 L285.68 248.74 L286.58 247.37 L287.47 245.99 L288.37 244.60 L289.27 243.20 L290.17 241.79 L291.08 240.36 L291.99 238.93 L292.90 237.48 L293.81 236.01 L294.73 234.54 L295.65 233.05 L296.57 231.56 L297.49 230.05 L298.42 228.52 L299.34 226.99 L300.28 225.44 L301.21 223.88 L302.15 222.31 L303.08 220.73 L304.03 219.13 L304.97 217.52 L305.92 215.90 L306.87 214.27 L307.82 212.62 L308.77 210.96 L309.73 209.29 L310.69 207.61 L311.65 205.91 L312.62 204.20 L313.58 202.48 L314.55 200.75 L315.52 199.00 L316.50 197.24 L317.48 195.47 L318.46 193.68 L319.44 191.88 L320.43 190.07 L321.41 188.25 L322.40 186.41 L323.40 184.56 L324.39 182.70 L325.39 180.82 L326.39 178.93 L327.40 177.03 L328.40 175.11 L329.41 173.18 L330.42 171.24 L331.44 169.28 L332.45 167.32 L333.47 165.33 L334.49 163.34 L335.52 161.33 L336.55 159.31 L337.58 157.27 L338.61 155.22 L339.64 153.16 L340.68 151.09 L341.72 149.00 L342.76 146.89 L343.81 144.78 L344.86 142.65 L345.91 140.50 L346.96 138.35 L348.02 136.17 L349.08 133.99 L350.14 131.79 L351.20 129.58 L352.27 127.35 L353.34 125.11 L354.41 122.86 L355.48 120.59 L356.56 118.31 L357.64 116.01 L358.72 113.70 L359.81 111.38 L360.89 109.04 L361.98 106.69 L363.08 104.33 L364.17 101.95 L365.27 99.55 L366.37 97.14 L367.47 94.72 L368.58 92.28 L369.69 89.83 L370.80 87.37 L371.91 84.89 L373.03 82.40 L374.15 79.89 L375.27 77.36 L376.40 74.83 L377.52 72.28 L378.65 69.71 L379.79 67.13 L380.92 64.54 L382.06 61.93 L383.20 59.30 L384.34 56.66 L385.49 54.01 L386.64 51.34 L387.79 48.66 L388.94 45.96 L390.10 43.25 L391.26 40.52 L392.42 37.78 L393.58 35.02 L394.75 32.25 L395.92 29.47 L397.09 26.66 L397.37 26.00" stroke="#ff00ff" stroke-dasharray="1 1.3"/>
<path d="M115.91 168.24 L115.91 168.24 L115.91 168.25 L115.91 168.25 L115.91 168.26 L115.92 168.27 L115.92 168.29 L115.93 168.31 L115.93 168.33 L115.94 168.35 L115.95 168.37 L115.96 168.40 L115.97 168.43 L115.99 168.46 L116.00 168.50 L116.02 168.53 L116.03 168.57 L116.05 168.61 L116.07 168.65 L116.09 168.70 L116.12 168.74 L116.14 168.79 L116.16 168.84 L116.19 168.89 L116.22 168.95 L116.25 169.00 L116.28 169.06 L116.31 169.12 L116.35 169.18 L116.38 169.24 L116.42 169.30 L116.46 169.37 L116.50 169.44 L116.54 169.50 L116.58 169.57 L116.63 169.64 L116.67 169.72 L116.72 169.79 L116.77 169.87 L116.82 169.94 L116.87 170.02 L116.93 170.10 L116.98 170.18 L117.04 170.26 L117.10 170.34 L117.16 170.42 L117.22 170.51 L117.28 170.59 L117.35 170.68 L117.42 170.77 L117.49 170.85 L117.56 170.94 L117.63 171.03 L117.70 171.12 L117.78 171.21 L117.85 171.31 L117.93 171.40 L118.01 171.49 L118.10 171.59 L118.18 171.68 L118.27 171.77 L118.35 171.87 L118.44 171.97 L118.53 172.06 L118.63 172.16 L118.72 172.26 L118.82 172.35 L118.91 172.45 L119.01 172.55 L119.12 172.65 L119.22 172.74 L119.32 172.84 L119.43 172.94 L119.54 173.04 L119.65 173.14 L119.76 173.24 L119.88 173.34 L119.99 173.43 L120.11 173.53 L120.23 173.63 L120.35 173.73 L120.47 173.83 L120.60 173.93 L120.72 174.02 L120.85 174.12 L120.98 174.22 L121.12 174.31 L121.25 174.41 L121.39 174.51 L121.52 174.60 L121.66 174.70 L121.81 174.79 L121.95 174.88 L122.10 174.98 L122.24 175.07 L122.39 175.16 L122.54 175.25 L122.70 175.34 L122.85 175.43 L123.01 175.52 L123.17 175.61 L123.33 175.69 L123.49 175.78 L123.65 175.86 L123.82 175.95 L123.99 176.03 L124.16 176.11 L124.33 176.19 L124.51 176.27 L124.68 176.35 L124.86 176.43 L125.04 176.50 L125.22 176.58 L125.41 176.65 L125.59 176.72 L125.78 176.79 L125.97 176.86 L126.16 176.93 L126.36 176.99 L126.55 177.06 L126.75 177.12 L126.95 177.18 L127.15 177.24 L127.36 177.30 L127.56 177.36 L127.77 177.41 L127.98 177.46 L128.19 177.51 L128.40 177.56 L128.62 177.61 L128.84 177.65 L129.06 177.70 L129.28 177.74 L129.50 177.78 L129.73 177.81 L129.96 177.85 L130.19 177.88 L130.42 177.91 L130.65 177.94 L130.89 177.96 L131.13 177.99 L131.37 178.01 L131.61 178.03 L131.86 178.04 L132.10 178.06 L132.35 178.07 L132.60 178.08 L132.85 178.08 L133.11 178.09 L133.36 178.09 L133.62 178.09 L133.88 178.08 L134.15 178.07 L134.41 178.06 L134.68 178.05 L134.95 178.04 L135.22 178.02 L135.49 178.00 L135.77 177.97 L136.05 177.95 L136.33 177.91 L136.61 177.88 L136.89 177.85 L137.18 177.81 L137.47 177.76 L137.76 177.72 L138.05 177.67 L138.34 177.61 L138.64 177.56 L138.94 177.50 L139.24 177.44 L139.54 177.37 L139.85 177.30 L140.16 177.23 L140.46 177.15 L140.78 177.07 L141.09 176.99 L141.41 176.90 L141.72 176.81 L142.04 176.71 L142.37 176.62 L142.69 176.51 L143.02 176.41 L143.35 176.30 L143.68 176.18 L144.01 176.07 L144.35 175.94 L144.68 175.82 L145.02 175.69 L145.37 175.55 L145.71 175.42 L146.06 175.27 L146.40 175.13 L146.75 174.98 L147.11 174.82 L147.46 174.66 L147.82 174.50 L148.18 174.33 L148.54 174.16 L148.90 173.98 L149.27 173.80 L149.64 173.62 L150.01 173.43 L150.38 173.23 L150.76 173.03 L151.13 172.83 L151.51 172.62 L151.89 172.40 L152.28 172.19 L152.66 171.96 L153.05 171.74 L153.44 171.50 L153.83 171.27 L154.23 171.02 L154.62 170.77 L155.02 170.52 L155.42 170.26 L155.83 170.00 L156.23 169.73 L156.64 169.46 L157.05 169.18 L157.47 168.90 L157.88 168.61 L158.30 168.32 L158.72 168.02 L159.14 167.71 L159.56 167.40 L159.99 167.09 L160.42 166.77 L160.85 166.44 L161.28 166.11 L161.72 165.77 L162.15 165.43 L162.59 165.08 L163.03 164.73 L163.48 164.37 L163.93 164.00 L164.37 163.63 L164.82 163.25 L165.28 162.87 L165.73 162.48 L166.19 162.08 L166.65 161.68 L167.11 161.28 L167.58 160.86 L168.05 160.44 L168.52 160.02 L168.99 159.59 L169.46 159.15 L169.94 158.71 L170.42 158.26 L170.90 157.80 L171.38 157.34 L171.87 156.87 L172.35 156.39 L172.84 155.91 L173.34 155.42 L173.83 154.93 L174.33 154.43 L174.83 153.92 L175.33 153.41 L175.83 152.89 L176.34 152.36 L176.85 151.82 L177.36 151.28 L177.87 150.74 L178.39 150.18 L178.91 149.62 L179.43 149.05 L179.95 148.48 L180.47 147.90 L181.00 147.31 L181.53 146.71 L182.06 146.11 L182.60 145.50 L183.13 144.88 L183.67 144.26 L184.21 143.63 L184.76 142.99 L185.30 142.34 L185.85 141.69 L186.40 141.03 L186.95 140.36 L187.51 139.69 L188.07 139.01 L188.63 138.32 L189.19 137.62 L189.76 136.92 L190.32 136.20 L190.89 135.48 L191.46 134.76 L192.04 134.02 L192.62 133.28 L193.20 132.53 L193.78 131.77 L194.36 131.01 L194.95 130.23 L195.54 129.45 L196.13 128.66 L196.72 127.86 L197.32 127.06 L197.91 126.25 L198.51 125.43 L199.12 124.60 L199.72 123.76 L200.33 122.91 L200.94 122.06 L201.55 121.20 L202.17 120.33 L202.79 119.45 L203.41 118.57 L204.03 117.67 L204.65 116.77 L205.28 115.86 L205.91 114.94 L206.54 114.01 L207.17 113.08 L207.81 112.13 L208.45 111.18 L209.09 110.22 L209.74 109.24 L210.38 108.27 L211.03 107.28 L211.68 106.28 L212.34 105.28 L212.99 104.26 L213.65 103.24 L214.31 102.21 L214.97 101.17 L215.64 100.12 L216.31 99.06 L216.98 98.00 L217.65 96.92 L218.33 95.83 L219.00 94.74 L219.69 93.64 L220.37 92.53 L221.05 91.40 L221.74 90.27 L222.43 89.13 L223.12 87.99 L223.82 86.83 L224.52 85.66 L225.22 84.48 L225.92 83.30 L226.62 82.10 L227.33 80.90 L228.04 79.68 L228.75 78.46 L229.47 77.23 L230.18 75.98 L230.90 74.73 L231.63 73.47 L232.35 72.20 L233.08 70.92 L233.81 69.63 L234.54 68.32 L235.27 67.01 L236.01 65.69 L236.75 64.36 L237.49 63.02 L238.23 61.67 L238.98 60.31 L239.73 58.94 L240.48 57.56 L241.24 56.18 L241.99 54.78 L242.75 53.37 L243.51 51.95 L244.28 50.52 L245.04 49.08 L245.81 47.63 L246.59 46.16 L247.36 44.69 L248.14 43.21 L248.91 41.72 L249.70 40.22 L250.48 38.71 L251.27 37.18 L252.06 35.65 L252.85 34.11 L253.64 32.55 L254.44 30.99 L255.24 29.41 L256.04 27.83 L256.84 26.23 L256.96 26.00" stroke="#00ffff" stroke-dasharray="5.4 1.7 1.3 1.7"/>
<path d="M115.91 88.26 L115.91 88.26 L115.91 88.27 L115.91 88.27 L115.91 88.28 L115.92 88.29 L115.92 88.30 L115.93 88.31 L115.93 88.33 L115.94 88.34 L115.95 88.36 L115.96 88.38 L115.97 88.40 L115.99 88.42 L116.00 88.45 L116.02 88.47 L116.03 88.50 L116.05 88.53 L116.07 88.56 L116.09 88.59 L116.12 88.62 L116.14 88.66 L116.16 88.69 L116.19 88.73 L116.22 88.76 L116.25 88.80 L116.28 88.84 L116.31 88.88 L116.35 88.92 L116.38 88.96 L116.42 89.00 L116.46 89.05 L116.50 89.09 L116.54 89.14 L116.58 89.18 L116.63 89.23 L116.67 89.28 L116.72 89.33 L116.77 89.37 L116.82 89.42 L116.87 89.47 L116.93 89.52 L116.98 89.57 L117.04 89.63 L117.10 89.68 L117.16 89.73 L117.22 89.78 L117.28 89.83 L117.35 89.89 L117.42 89.94 L117.49 89.99 L117.56 90.05 L117.63 90.10 L117.70 90.16 L117.78 90.21 L117.85 90.27 L117.93 90.32 L118.01 90.37 L118.10 90.43 L118.18 90.48 L118.27 90.54 L118.35 90.59 L118.44 90.65 L118.53 90.70 L118.63 90.75 L118.72 90.81 L118.82 90.86 L118.91 90.91 L119.01 90.96 L119.12 91.02 L119.22 91.07 L119.32 91.12 L119.43 91.17 L119.54 91.22 L119.65 91.27 L119.76 91.32 L119.88 91.37 L119.99 91.42 L120.11 91.46 L120.23 91.51 L120.35 91.56 L120.47 91.60 L120.60 91.65 L120.72 91.69 L120.85 91.73 L120.98 91.77 L121.12 91.82 L121.25 91.86 L121.39 91.89 L121.52 91.93 L121.66 91.97 L121.81 92.00 L121.95 92.04 L122.10 92.07 L122.24 92.11 L122.39 92.14 L122.54 92.17 L122.70 92.20 L122.85 92.22 L123.01 92.25 L123.17 92.27 L123.33 92.30 L123.49 92.32 L123.65 92.34 L123.82 92.36 L123.99 92.37 L124.16 92.39 L124.33 92.40 L124.51 92.42 L124.68 92.43 L124.86 92.44 L125.04 92.44 L125.22 92.45 L125.41 92.45 L125.59 92.46 L125.78 92.46 L125.97 92.45 L126.16 92.45 L126.36 92.44 L126.55 92.44 L126.75 92.43 L126.95 92.41 L127.15 92.40 L127.36 92.38 L127.56 92.37 L127.77 92.34 L127.98 92.32 L128.19 92.30 L128.40 92.27 L128.62 92.24 L128.84 92.21 L129.06 92.17 L129.28 92.14 L129.50 92.10 L129.73 92.05 L129.96 92.01 L130.19 91.96 L130.42 91.91 L130.65 91.86 L130.89 91.81 L131.13 91.75 L131.37 91.69 L131.61 91.62 L131.86 91.56 L132.10 91.49 L132.35 91.42 L132.60 91.34 L132.85 91.26 L133.11 91.18 L133.36 91.10 L133.62 91.01 L133.88 90.92 L134.15 90.83 L134.41 90.73 L134.68 90.63 L134.95 90.53 L135.22 90.43 L135.49 90.32 L135.77 90.20 L136.05 90.09 L136.33 89.97 L136.61 89.85 L136.89 89.72 L137.18 89.59 L137.47 89.46 L137.76 89.32 L138.05 89.18 L138.34 89.04 L138.64 88.89 L138.94 88.74 L139.24 88.58 L139.54 88.42 L139.85 88.26 L140.16 88.09 L140.46 87.92 L140.78 87.75 L141.09 87.57 L141.41 87.39 L141.72 87.20 L142.04 87.01 L142.37 86.82 L142.69 86.62 L143.02 86.42 L143.35 86.21 L143.68 86.00 L144.01 85.78 L144.35 85.56 L144.68 85.34 L145.02 85.11 L145.37 84.88 L145.71 84.64 L146.06 84.40 L146.40 84.15 L146.75 83.90 L147.11 83.65 L147.46 83.39 L147.82 83.12 L148.18 82.86 L148.54 82.58 L148.90 82.30 L149.27 82.02 L149.64 81.73 L150.01 81.44 L150.38 81.14 L150.76 80.84 L151.13 80.53 L151.51 80.22 L151.89 79.90 L152.28 79.58 L152.66 79.25 L153.05 78.92 L153.44 78.58 L153.83 78.24 L154.23 77.89 L154.62 77.54 L155.02 77.18 L155.42 76.82 L155.83 76.45 L156.23 76.07 L156.64 75.69 L157.05 75.31 L157.47 74.92 L157.88 74.52 L158.30 74.12 L158.72 73.71 L159.14 73.30 L159.56 72.88 L159.99 72.45 L160.42 72.02 L160.85 71.59 L161.28 71.15 L161.72 70.70 L162.15 70.25 L162.59 69.79 L163.03 69.32 L163.48 68.85 L163.93 68.37 L164.37 67.89 L164.82 67.40 L165.28 66.91 L165.73 66.41 L166.19 65.90 L166.65 65.39 L167.11 64.87 L167.58 64.34 L168.05 63.81 L168.52 63.27 L168.99 62.72 L169.46 62.17 L169.94 61.62 L170.42 61.05 L170.90 60.48 L171.38 59.90 L171.87 59.32 L172.35 58.73 L172.84 58.13 L173.34 57.53 L173.83 56.92 L174.33 56.30 L174.83 55.68 L175.33 55.05 L175.83 54.41 L176.34 53.77 L176.85 53.12 L177.36 52.46 L177.87 51.80 L178.39 51.13 L178.91 50.45 L179.43 49.76 L179.95 49.07 L180.47 48.37 L181.00 47.66 L181.53 46.95 L182.06 46.23 L182.60 45.50 L183.13 44.76 L183.67 44.02 L184.21 43.27 L184.76 42.51 L185.30 41.75 L185.85 40.98 L186.40 40.20 L186.95 39.41 L187.51 38.61 L188.07 37.81 L188.63 37.00 L189.19 36.18 L189.76 35.36 L190.32 34.52 L190.89 33.68 L191.46 32.84 L192.04 31.98 L192.62 31.12 L193.20 30.24 L193.78 29.36 L194.36 28.48 L194.95 27.58 L195.54 26.68 L195.97 26.00" stroke="#ff4d00" stroke-dasharray="5.4 1.9 1.2 1.5 1.2 1.7"/>
</g>
<path d="M140.33 217.79 V251.84 M137.53 217.79 H143.13 M137.53 251.84 H143.13" stroke="#ff0000" stroke-width="1.20" fill="none"/>
<rect x="136.03" y="230.52" width="8.60" height="8.60" fill="#ff0000"/>
<path d="M158.66 258.91 V285.68 M155.86 258.91 H161.46 M155.86 285.68 H161.46" stroke="#ff0000" stroke-width="1.20" fill="none"/>
<rect x="154.36" y="268.00" width="8.60" height="8.60" fill="#ff0000"/>
<path d="M176.99 282.47 V304.96 M174.19 282.47 H179.79 M174.19 304.96 H179.79" stroke="#ff0000" stroke-width="1.20" fill="none"/>
<rect x="172.69" y="289.41" width="8.60" height="8.60" fill="#ff0000"/>
<path d="M195.32 298.69 V320.86 M192.52 298.69 H198.12 M192.52 320.86 H198.12" stroke="#ff0000" stroke-width="1.20" fill="none"/>
<rect x="191.02" y="305.48" width="8.60" height="8.60" fill="#ff0000"/>
<path d="M158.66 287.56 V310.58 M155.86 287.56 H161.46 M155.86 310.58 H161.46" stroke="#00ff00" stroke-width="1.20" fill="none"/>
<circle cx="158.66" cy="299.07" r="4.40" fill="#00ff00"/>
<path d="M176.99 304.42 V324.23 M174.19 304.42 H179.79 M174.19 324.23 H179.79" stroke="#00ff00" stroke-width="1.20" fill="none"/>
<circle cx="176.99" cy="314.33" r="4.40" fill="#00ff00"/>
<path d="M195.32 316.47 V335.21 M192.52 316.47 H198.12 M192.52 335.21 H198.12" stroke="#00ff00" stroke-width="1.20" fill="none"/>
<circle cx="195.32" cy="325.84" r="4.40" fill="#00ff00"/>
<path d="M176.99 318.61 V336.28 M174.19 318.61 H179.79 M174.19 336.28 H179.79" stroke="#0000ff" stroke-width="1.20" fill="none"/>
<polygon points="176.99,322.75 172.79,329.95 181.19,329.95" fill="#0000ff"/>
<path d="M195.32 327.02 V342.87 M192.52 327.02 H198.12 M192.52 342.87 H198.12" stroke="#0000ff" stroke-width="1.20" fill="none"/>
<polygon points="195.32,330.24 191.12,337.44 199.52,337.44" fill="#0000ff"/>
<path d="M195.32 334.67 V351.27 M192.52 334.67 H198.12 M192.52 351.27 H198.12" stroke="#ff00ff" stroke-width="1.20" fill="none"/>
<polygon points="195.32,347.67 191.12,340.47 199.52,340.47" fill="#ff00ff"/>
<path d="M351.25 343.20 V360.00 M348.45 343.20 H354.05 M348.45 360.00 H354.05" stroke="#ff0000" stroke-width="1.20" fill="none"/>
<rect x="346.95" y="347.30" width="8.60" height="8.60" fill="none" stroke="#ff0000" stroke-width="1.3"/>
<path d="M351.25 348.00 V359.00 M348.45 348.00 H354.05 M348.45 359.00 H354.05" stroke="#00ff00" stroke-width="1.20" fill="none"/>
<circle cx="351.25" cy="353.50" r="4.40" fill="none" stroke="#00ff00" stroke-width="1.3"/>
<path d="M351.25 351.20 V361.60 M348.45 351.20 H354.05 M348.45 361.60 H354.05" stroke="#0000ff" stroke-width="1.20" fill="none"/>
<polygon points="351.25,351.70 347.05,358.90 355.45,358.90" fill="none" stroke="#0000ff" stroke-width="1.3"/>
<path d="M351.25 353.20 V364.20 M348.45 353.20 H354.05 M348.45 364.20 H354.05" stroke="#ff00ff" stroke-width="1.20" fill="none"/>
<polygon points="351.25,363.40 347.05,356.20 355.45,356.20" fill="none" stroke="#ff00ff" stroke-width="1.3"/>
<path d="M351.25 346.60 V354.60 M348.45 346.60 H354.05 M348.45 354.60 H354.05" stroke="#00ffff" stroke-width="1.20" fill="none"/>
<polygon points="351.25,346.20 355.25,350.60 351.25,355.00 347.25,350.60" fill="none" stroke="#00ffff" stroke-width="1.3"/>
<path d="M397.10 345.60 V362.40 M394.30 345.60 H399.90 M394.30 362.40 H399.90" stroke="#ff0000" stroke-width="1.20" fill="none"/>
<rect x="392.80" y="349.70" width="8.60" height="8.60" fill="none" stroke="#ff0000" stroke-width="1.3"/>
<path d="M397.10 348.90 V359.90 M394.30 348.90 H399.90 M394.30 359.90 H399.90" stroke="#00ff00" stroke-width="1.20" fill="none"/>
<circle cx="397.10" cy="354.40" r="4.40" fill="none" stroke="#00ff00" stroke-width="1.3"/>
<path d="M397.10 350.20 V362.20 M394.30 350.20 H399.90 M394.30 362.20 H399.90" stroke="#0000ff" stroke-width="1.20" fill="none"/>
<polygon points="397.10,351.50 392.90,358.70 401.30,358.70" fill="none" stroke="#0000ff" stroke-width="1.3"/>
<path d="M397.10 349.30 V363.30 M394.30 349.30 H399.90 M394.30 363.30 H399.90" stroke="#ff00ff" stroke-width="1.20" fill="none"/>
<polygon points="397.10,361.00 392.90,353.80 401.30,353.80" fill="none" stroke="#ff00ff" stroke-width="1.3"/>
<path d="M397.10 341.60 V349.60 M394.30 341.60 H399.90 M394.30 349.60 H399.90" stroke="#00ffff" stroke-width="1.20" fill="none"/>
<polygon points="397.10,341.20 401.10,345.60 397.10,350.00 393.10,345.60" fill="none" stroke="#00ffff" stroke-width="1.3"/>
<path d="M397.10 335.60 V343.60 M394.30 335.60 H399.90 M394.30 343.60 H399.90" stroke="#ff4d00" stroke-width="1.20" fill="none"/>
<polygon points="397.10,335.35 401.14,338.29 399.60,343.04 394.60,343.04 393.06,338.29" fill="none" stroke="#ff4d00" stroke-width="1.3"/>
<g stroke="#000" stroke-width="1.4" fill="none">
<rect x="113.00" y="26.00" width="375.60" height="374.80"/>
<path d="M122.00 400.80 v-5.60 M122.00 26.00 v5.60 M140.33 400.80 v-2.80 M140.33 26.00 v2.80 M158.66 400.80 v-2.80 M158.66 26.00 v2.80 M176.99 400.80 v-2.80 M176.99 26.00 v2.80 M195.32 400.80 v-2.80 M195.32 26.00 v2.80 M213.65 400.80 v-5.60 M213.65 26.00 v5.60 M231.98 400.80 v-2.80 M231.98 26.00 v2.80 M250.31 400.80 v-2.80 M250.31 26.00 v2.80 M268.64 400.80 v-2.80 M268.64 26.00 v2.80 M286.97 400.80 v-2.80 M286.97 26.00 v2.80 M305.30 400.80 v-5.60 M305.30 26.00 v5.60 M323.63 400.80 v-2.80 M323.63 26.00 v2.80 M341.96 400.80 v-2.80 M341.96 26.00 v2.80 M360.29 400.80 v-2.80 M360.29 26.00 v2.80 M378.62 400.80 v-2.80 M378.62 26.00 v2.80 M396.95 400.80 v-5.60 M396.95 26.00 v5.60 M415.28 400.80 v-2.80 M415.28 26.00 v2.80 M433.61 400.80 v-2.80 M433.61 26.00 v2.80 M451.94 400.80 v-2.80 M451.94 26.00 v2.80 M470.27 400.80 v-2.80 M470.27 26.00 v2.80 M488.60 400.80 v-5.60 M488.60 26.00 v5.60 M113.00 374.03 h5.6 M488.60 374.03 h-5.6 M113.00 320.49 h5.6 M488.60 320.49 h-5.6 M113.00 266.94 h5.6 M488.60 266.94 h-5.6 M113.00 213.40 h5.6 M488.60 213.40 h-5.6 M113.00 159.86 h5.6 M488.60 159.86 h-5.6 M113.00 106.31 h5.6 M488.60 106.31 h-5.6 M113.00 52.77 h5.6 M488.60 52.77 h-5.6" stroke-width="1.1"/>
</g>
<filter id="gf" x="0" y="0" width="521" height="488" filterUnits="userSpaceOnUse"><feOffset dx="0" dy="0"/></filter>
<g filter="url(#gf)" stroke="#000" stroke-width="0.35">
<text x="99.80" y="381.98" font-size="21.70" xml:space="preserve" text-anchor="end"><tspan font-size="21.70" dy="0.00">3.3</tspan></text>
<text x="99.80" y="328.44" font-size="21.70" xml:space="preserve" text-anchor="end"><tspan font-size="21.70" dy="0.00">3.4</tspan></text>
<text x="99.80" y="274.89" font-size="21.70" xml:space="preserve" text-anchor="end"><tspan font-size="21.70" dy="0.00">3.5</tspan></text>
<text x="99.80" y="221.35" font-size="21.70" xml:space="preserve" text-anchor="end"><tspan font-size="21.70" dy="0.00">3.6</tspan></text>
<text x="99.80" y="167.81" font-size="21.70" xml:space="preserve" text-anchor="end"><tspan font-size="21.70" dy="0.00">3.7</tspan></text>
<text x="99.80" y="114.26" font-size="21.70" xml:space="preserve" text-anchor="end"><tspan font-size="21.70" dy="0.00">3.8</tspan></text>
<text x="99.80" y="60.72" font-size="21.70" xml:space="preserve" text-anchor="end"><tspan font-size="21.70" dy="0.00">3.9</tspan></text>
<text x="124.60" y="430.20" font-size="21.70" xml:space="preserve" text-anchor="middle"><tspan font-size="21.70" dy="0.00">0</tspan></text>
<text x="216.25" y="430.20" font-size="21.70" xml:space="preserve" text-anchor="middle"><tspan font-size="21.70" dy="0.00">0.01</tspan></text>
<text x="307.90" y="430.20" font-size="21.70" xml:space="preserve" text-anchor="middle"><tspan font-size="21.70" dy="0.00">0.02</tspan></text>
<text x="399.55" y="430.20" font-size="21.70" xml:space="preserve" text-anchor="middle"><tspan font-size="21.70" dy="0.00">0.03</tspan></text>
<text x="491.20" y="430.20" font-size="21.70" xml:space="preserve" text-anchor="middle"><tspan font-size="21.70" dy="0.00">0.04</tspan></text>
<text x="287.30" y="460.65" font-size="21.70" xml:space="preserve"><tspan font-size="21.70" dy="0.00">m</tspan><tspan font-size="17.36" dy="7.25">y</tspan></text>
<text x="131.80" y="52.20" font-size="21.70" xml:space="preserve"><tspan font-size="21.70" dy="0.00">m</tspan></text>
<text x="149.88" y="59.10" font-size="17.36">xy</text>
<text x="149.88" y="41.50" font-size="17.36">2</text>
<text x="171.00" y="52.20" font-size="21.70" xml:space="preserve"><tspan font-size="21.70" dy="0.00">/</tspan></text>
<text x="184.70" y="52.20" font-size="21.70" xml:space="preserve"><tspan font-size="21.70" dy="0.00">(m</tspan><tspan font-size="17.36" dy="6.20">avg</tspan><tspan font-size="21.70" dy="-4.00">+</tspan><tspan font-size="21.70" dy="-2.20">m</tspan><tspan font-size="17.36" dy="6.20">res</tspan><tspan font-size="21.70" dy="-6.20">)</tspan></text>
<text x="131.80" y="362.00" font-size="21.70" xml:space="preserve"><tspan font-size="21.70" dy="0.00">m</tspan><tspan font-size="17.36" dy="6.20">l</tspan><tspan font-size="21.70" dy="-6.20"> </tspan><tspan font-size="21.70" dy="2.20">=</tspan><tspan font-size="21.70" dy="-2.20"> 0.004, m</tspan><tspan font-size="17.36" dy="6.20">h</tspan><tspan font-size="21.70" dy="-6.20"> </tspan><tspan font-size="21.70" dy="2.20">=</tspan><tspan font-size="21.70" dy="-2.20"> 0.03</tspan></text>
<text x="131.80" y="382.60" font-size="21.70" xml:space="preserve"><tspan font-size="21.70" dy="0.00">fit: m</tspan><tspan font-size="17.36" dy="7.10">avg</tspan><tspan font-size="21.70" dy="-7.10"> </tspan><tspan font-size="21.70" dy="-0.50" dx="1.20">≤</tspan><tspan font-size="21.70" dy="0.50" dx="-0.40"> 0.008</tspan></text>
<text x="311.60" y="210.60" font-size="21.70" xml:space="preserve"><tspan font-size="21.70" dy="0.00">m</tspan><tspan font-size="17.36" dy="6.20">x</tspan><tspan font-size="21.70" dy="-4.00">=</tspan><tspan font-size="21.70" dy="-2.20">0.002</tspan></text>
<text x="311.60" y="232.20" font-size="21.70" xml:space="preserve"><tspan font-size="21.70" dy="0.00">m</tspan><tspan font-size="17.36" dy="6.60">x</tspan><tspan font-size="21.70" dy="-4.40">=</tspan><tspan font-size="21.70" dy="-2.20">0.004</tspan></text>
<text x="311.60" y="253.80" font-size="21.70" xml:space="preserve"><tspan font-size="21.70" dy="0.00">m</tspan><tspan font-size="17.36" dy="6.60">x</tspan><tspan font-size="21.70" dy="-4.40">=</tspan><tspan font-size="21.70" dy="-2.20">0.002</tspan></text>
<text x="311.60" y="276.00" font-size="21.70" xml:space="preserve"><tspan font-size="21.70" dy="0.00">m</tspan><tspan font-size="17.36" dy="6.60">x</tspan><tspan font-size="21.70" dy="-4.40">=</tspan><tspan font-size="21.70" dy="-2.20">0.008</tspan></text>
<text x="311.60" y="297.30" font-size="21.70" xml:space="preserve"><tspan font-size="21.70" dy="0.00">m</tspan><tspan font-size="17.36" dy="6.60">x</tspan><tspan font-size="21.70" dy="-4.40">=</tspan><tspan font-size="21.70" dy="-2.20">0.025</tspan></text>
<text x="311.60" y="318.70" font-size="21.70" xml:space="preserve"><tspan font-size="21.70" dy="0.00">m</tspan><tspan font-size="17.36" dy="6.60">x</tspan><tspan font-size="21.70" dy="-4.40">=</tspan><tspan font-size="21.70" dy="-2.20">0.03</tspan></text>
</g>
<path d="M417.30 205.60 H475.50" stroke="#ff0000" stroke-width="1.35" fill="none"/>
<path d="M417.30 202.40 v6.4 M475.50 202.40 v6.4" stroke="#ff0000" stroke-width="1.2" fill="none"/>
<rect x="442.30" y="201.30" width="8.60" height="8.60" fill="#ff0000"/>
<path d="M417.30 227.28 H475.50" stroke="#00ff00" stroke-width="1.35" fill="none" stroke-dasharray="3.75 1.85" stroke-dashoffset="0.0"/>
<path d="M417.30 224.08 v6.4 M475.50 224.08 v6.4" stroke="#00ff00" stroke-width="1.2" fill="none" stroke-dasharray="3.75 1.85"/>
<circle cx="446.60" cy="227.28" r="4.40" fill="#00ff00"/>
<path d="M417.30 248.96 H475.50" stroke="#0000ff" stroke-width="1.35" fill="none" stroke-dasharray="1.9 2.6" stroke-dashoffset="0.0"/>
<path d="M417.30 245.76 v6.4 M475.50 245.76 v6.4" stroke="#0000ff" stroke-width="1.2" fill="none" stroke-dasharray="1.9 2.6"/>
<polygon points="446.60,244.26 442.40,251.46 450.80,251.46" fill="#0000ff"/>
<path d="M417.30 270.64 H475.50" stroke="#ff00ff" stroke-width="1.35" fill="none" stroke-dasharray="1 1.3" stroke-dashoffset="0.0"/>
<path d="M417.30 267.44 v6.4 M475.50 267.44 v6.4" stroke="#ff00ff" stroke-width="1.2" fill="none" stroke-dasharray="1 1.3"/>
<polygon points="446.60,275.34 442.40,268.14 450.80,268.14" fill="#ff00ff"/>
<path d="M417.30 292.32 H475.50" stroke="#00ffff" stroke-width="1.35" fill="none" stroke-dasharray="5.4 1.7 1.3 1.7" stroke-dashoffset="0.0"/>
<path d="M417.30 289.12 v6.4 M475.50 289.12 v6.4" stroke="#00ffff" stroke-width="1.2" fill="none" stroke-dasharray="5.4 1.7 1.3 1.7"/>
<polygon points="446.60,287.92 450.60,292.32 446.60,296.72 442.60,292.32" fill="#00ffff"/>
<path d="M417.30 314.00 H475.50" stroke="#ff4d00" stroke-width="1.35" fill="none" stroke-dasharray="5.4 1.9 1.2 1.5 1.2 1.7" stroke-dashoffset="-2.6"/>
<path d="M417.30 310.80 v6.4 M475.50 310.80 v6.4" stroke="#ff4d00" stroke-width="1.2" fill="none" stroke-dasharray="5.4 1.9 1.2 1.5 1.2 1.7"/>
<polygon points="446.60,309.75 450.64,312.69 449.10,317.44 444.10,317.44 442.56,312.69" fill="#ff4d00"/>
</svg></body></html>
